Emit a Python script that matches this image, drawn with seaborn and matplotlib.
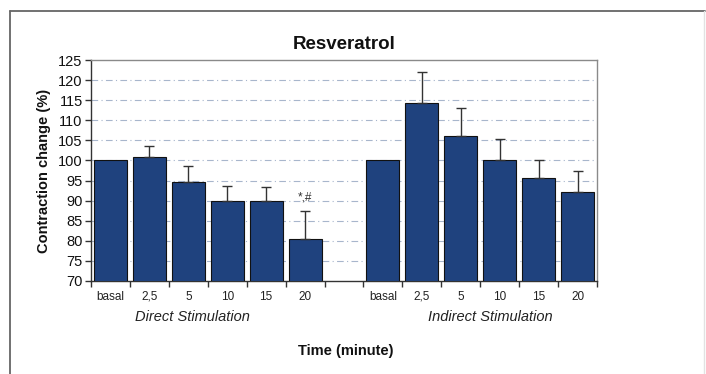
import matplotlib
matplotlib.use("Agg")
import matplotlib.pyplot as plt
import matplotlib.transforms as mtransforms
from matplotlib.lines import Line2D
import seaborn as sns
import pandas as pd
import numpy as np

# ---- data ----
time_labels = ["basal", "2,5", "5", "10", "15", "20"]
groups = ["Direct Stimulation", "Indirect Stimulation"]
direct_values = [100.0, 100.8, 94.6, 89.8, 90.0, 80.4]
direct_errors = [0.0, 2.9, 3.9, 3.8, 3.4, 6.9]
indirect_values = [100.0, 114.2, 106.2, 100.0, 95.6, 92.2]
indirect_errors = [0.0, 7.8, 6.8, 5.4, 4.4, 5.1]
y_ticks = [70, 75, 80, 85, 90, 95, 100, 105, 110, 115, 120, 125]
annotation_text = "*,#"

# ---- table ----
keys_d = [f"D {t}" for t in time_labels]
keys_i = [f"I {t}" for t in time_labels]
df = pd.DataFrame({
    "key": keys_d + keys_i,
    "value": direct_values + indirect_values,
    "err": direct_errors + indirect_errors,
})
order = keys_d + ["gap"] + keys_i
tick_labels = time_labels + [""] + time_labels

sns.set_theme(style="white")
plt.rcParams["font.family"] = ["Liberation Sans", "DejaVu Sans"]
narrow = ["Liberation Sans Narrow", "Liberation Sans", "DejaVu Sans"]

fig = plt.figure(figsize=(7.06, 3.74), dpi=100)
ax = fig.add_axes([91/706, 1-281/374, (597-91)/706, (281-60)/374])

bar_color = "#1f427e"
sns.barplot(data=df, x="key", y="value", order=order, color=bar_color,
            saturation=1, width=0.85, edgecolor="#111111", linewidth=0.8,
            errorbar=None, ax=ax, zorder=3)

# error bars (upper only, where an error exists)
sub = df[df["err"] > 0]
pos = [order.index(k) for k in sub["key"]]
errs = sub["err"].to_numpy()
ax.errorbar(pos, sub["value"], yerr=[np.zeros_like(errs), errs], fmt="none",
            ecolor="#333333", elinewidth=1.0, capsize=3.5, capthick=1.0, zorder=4)

ax.set_ylim(70, 125)
ax.set_xlim(-0.5, len(order) - 0.5)
ax.set_yticks(y_ticks)
ax.set_yticklabels([str(v) for v in y_ticks], fontsize=10.5, color="#111111")
ax.set_xticks(range(len(order)))
ax.set_xticklabels(tick_labels, fontsize=8.5, color="#222222", family=narrow)
ax.tick_params(axis="x", which="major", length=0, pad=7)
ax.set_xticks(np.arange(-0.5, len(order), 1.0), minor=True)
ax.tick_params(axis="x", which="minor", length=4, width=1, color="#333333", direction="out", bottom=True)
ax.tick_params(axis="y", which="major", length=4, width=1, color="#333333", direction="out", left=True, pad=2)

for yv in y_ticks[1:-1]:
    ax.axhline(yv, color="#a8b6cc", linestyle=(0, (6, 3, 1, 3)), linewidth=0.8, zorder=1)

for s in ax.spines.values():
    s.set_color("#8a8a8a")
    s.set_linewidth(1.0)
ax.spines["left"].set_color("#333333")
ax.spines["bottom"].set_color("#333333")

ax.set_xlabel("")
ax.set_ylabel("Contraction change (%)", fontsize=10.5, fontweight="bold",
              color="#111111", labelpad=5)
ax.set_title("Resveratrol", fontsize=13.5, fontweight="bold", color="#111111", pad=8)

# annotation above the last direct bar
last = len(time_labels) - 1
ax.text(order.index(keys_d[last]), direct_values[last] + direct_errors[last] + 3.6,
        annotation_text, ha="center", va="center", fontsize=8.5, color="#333333")

# group labels and x title
trans = mtransforms.blended_transform_factory(ax.transData, fig.transFigure)
ax.text(2.1, 1-317/374, groups[0], transform=trans, ha="center", va="center",
        fontsize=10.5, style="italic", color="#222222", family=narrow)
ax.text(9.75, 1-317/374, groups[1], transform=trans, ha="center", va="center",
        fontsize=10.5, style="italic", color="#222222", family=narrow)
fig.text(346/706, 1-351/374, "Time (minute)", ha="center", va="center",
         fontsize=10.5, fontweight="bold", color="#111111", family=narrow)

# outer frame
fig.add_artist(Line2D([10/706, 10/706], [0, 1-11/374], transform=fig.transFigure,
                      color="#666666", linewidth=1.3))
fig.add_artist(Line2D([10/706, 705/706], [1-11/374, 1-11/374], transform=fig.transFigure,
                      color="#666666", linewidth=1.3))
fig.add_artist(Line2D([704/706, 704/706], [0, 1-11/374], transform=fig.transFigure,
                      color="#e2e2e2", linewidth=1.0))

fig.savefig("out.png", dpi=100)
